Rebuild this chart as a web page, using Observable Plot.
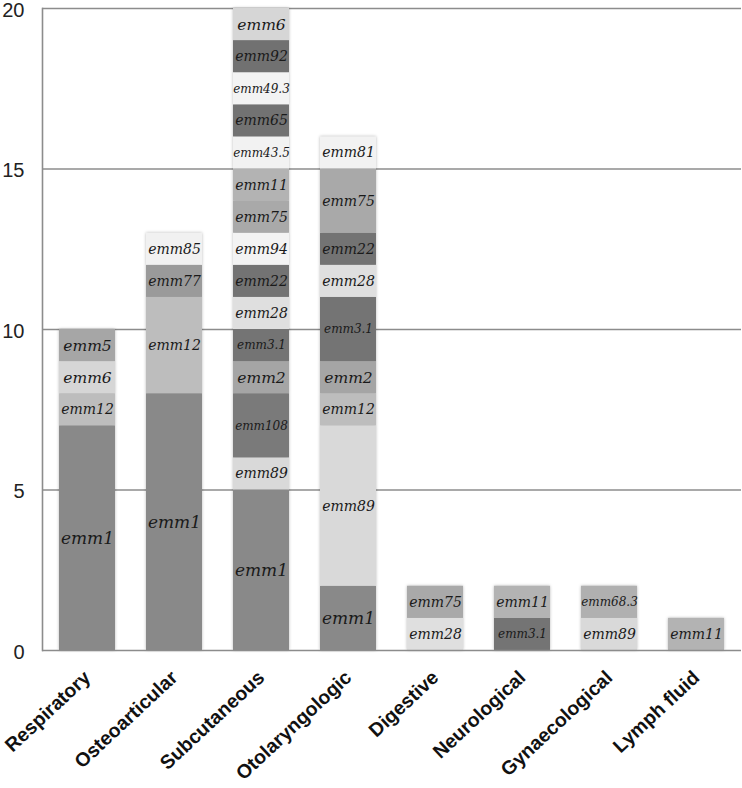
<!DOCTYPE html>
<html>
<head>
<meta charset="utf-8">
<script src="https://cdn.jsdelivr.net/npm/d3@7"></script>
<script src="https://cdn.jsdelivr.net/npm/@observablehq/plot@0.6"></script>
<style>
  html, body { margin: 0; padding: 0; background: #fff; }
  #chart { width: 742px; height: 788px; }
  #chart g[aria-label="bar"] { filter: drop-shadow(0px 0px 1.5px rgba(0,0,0,0.28)); }
</style>
</head>
<body>
<div id="chart"></div>
<script>
// Categories (x axis)
const organs = ["Respiratory", "Osteoarticular", "Subcutaneous", "Otolaryngologic",
                "Digestive", "Neurological", "Gynaecological", "Lymph fluid"];

// Stacked segments per category, bottom to top: emm type and number of isolates
const respiratoryTypes = ["emm1", "emm12", "emm6", "emm5"];
const respiratoryCounts = [7, 1, 1, 1];
const osteoarticularTypes = ["emm1", "emm12", "emm77", "emm85"];
const osteoarticularCounts = [8, 3, 1, 1];
const subcutaneousTypes = ["emm1", "emm89", "emm108", "emm2", "emm3.1", "emm28", "emm22", "emm94",
                           "emm75", "emm11", "emm43.5", "emm65", "emm49.3", "emm92", "emm6"];
const subcutaneousCounts = [5, 1, 2, 1, 1, 1, 1, 1, 1, 1, 1, 1, 1, 1, 1];
const otolaryngologicTypes = ["emm1", "emm89", "emm12", "emm2", "emm3.1", "emm28", "emm22", "emm75", "emm81"];
const otolaryngologicCounts = [2, 5, 1, 1, 2, 1, 1, 2, 1];
const digestiveTypes = ["emm28", "emm75"];
const digestiveCounts = [1, 1];
const neurologicalTypes = ["emm3.1", "emm11"];
const neurologicalCounts = [1, 1];
const gynaecologicalTypes = ["emm89", "emm68.3"];
const gynaecologicalCounts = [1, 1];
const lymphTypes = ["emm11"];
const lymphCounts = [1];

// Y axis ticks
const yTicks = [0, 5, 10, 15, 20];

// emm type -> grey shade (colour scale)
const emmDomain = ["emm1", "emm12", "emm6", "emm5", "emm77", "emm85", "emm89", "emm108", "emm2", "emm3.1",
                   "emm28", "emm22", "emm94", "emm75", "emm11", "emm43.5", "emm65", "emm49.3", "emm92",
                   "emm81", "emm68.3"];
const emmGreys = ["#898989", "#bdbdbd", "#d6d6d6", "#a6a6a6", "#9a9a9a", "#f1f1f1", "#d9d9d9", "#7a7a7a", "#a5a5a5", "#747474",
                  "#dfdfdf", "#737373", "#f3f3f3", "#a9a9a9", "#b3b3b3", "#f2f2f2", "#727272", "#f3f3f3", "#717171",
                  "#f2f2f2", "#b0b0b0"];

const groups = [
  [respiratoryTypes, respiratoryCounts],
  [osteoarticularTypes, osteoarticularCounts],
  [subcutaneousTypes, subcutaneousCounts],
  [otolaryngologicTypes, otolaryngologicCounts],
  [digestiveTypes, digestiveCounts],
  [neurologicalTypes, neurologicalCounts],
  [gynaecologicalTypes, gynaecologicalCounts],
  [lymphTypes, lymphCounts]
];
const rows = [];
groups.forEach(([types, counts], i) => {
  types.forEach((t, j) => rows.push({organ: organs[i], emm: t, n: counts[j]}));
});

const labelSize = d => d.emm === "emm1" ? 17 : d.emm.length <= 4 ? 15.5 : d.emm.length === 5 ? 14 : 12;

const chart = Plot.plot({
  width: 742,
  height: 788,
  marginLeft: 42,
  marginRight: 1,
  marginTop: 8,
  marginBottom: 138,
  style: {background: "#fff", overflow: "visible"},
  x: {domain: organs, paddingInner: 0.36, paddingOuter: 0.18, label: null},
  y: {domain: [0, 20], label: null},
  color: {domain: emmDomain, range: emmGreys},
  marks: [
    Plot.ruleY([5, 10, 15, 20], {stroke: "#8c8c8c", strokeWidth: 1.6}),
    Plot.barY(rows, Plot.stackY({x: "organ", y: "n", fill: "emm", order: null})),
    Plot.text(rows, Plot.stackY({
      x: "organ", y: "n", text: "emm", order: null,
      fontSize: labelSize,
      fontFamily: "DejaVu Serif",
      fontStyle: "italic",
      fill: "#1a1a1a"
    })),
    Plot.ruleY([0], {stroke: "#8c8c8c", strokeWidth: 1.6}),
    Plot.frame({anchor: "left", stroke: "#8c8c8c", strokeWidth: 1.6}),
    Plot.axisY(yTicks, {
      tickSize: 0, textAnchor: "end", dx: -18, dy: 2, tickPadding: 0,
      fontSize: 20, fontFamily: "Liberation Sans", fill: "#222", label: null
    }),
    Plot.axisX({
      tickSize: 0, tickPadding: 24, tickRotate: -43, textAnchor: "end",
      fontSize: 19.5, fontWeight: "bold", fontFamily: "Liberation Sans", fill: "#111", label: null
    })
  ]
});
document.getElementById("chart").appendChild(chart);
</script>
</body>
</html>
